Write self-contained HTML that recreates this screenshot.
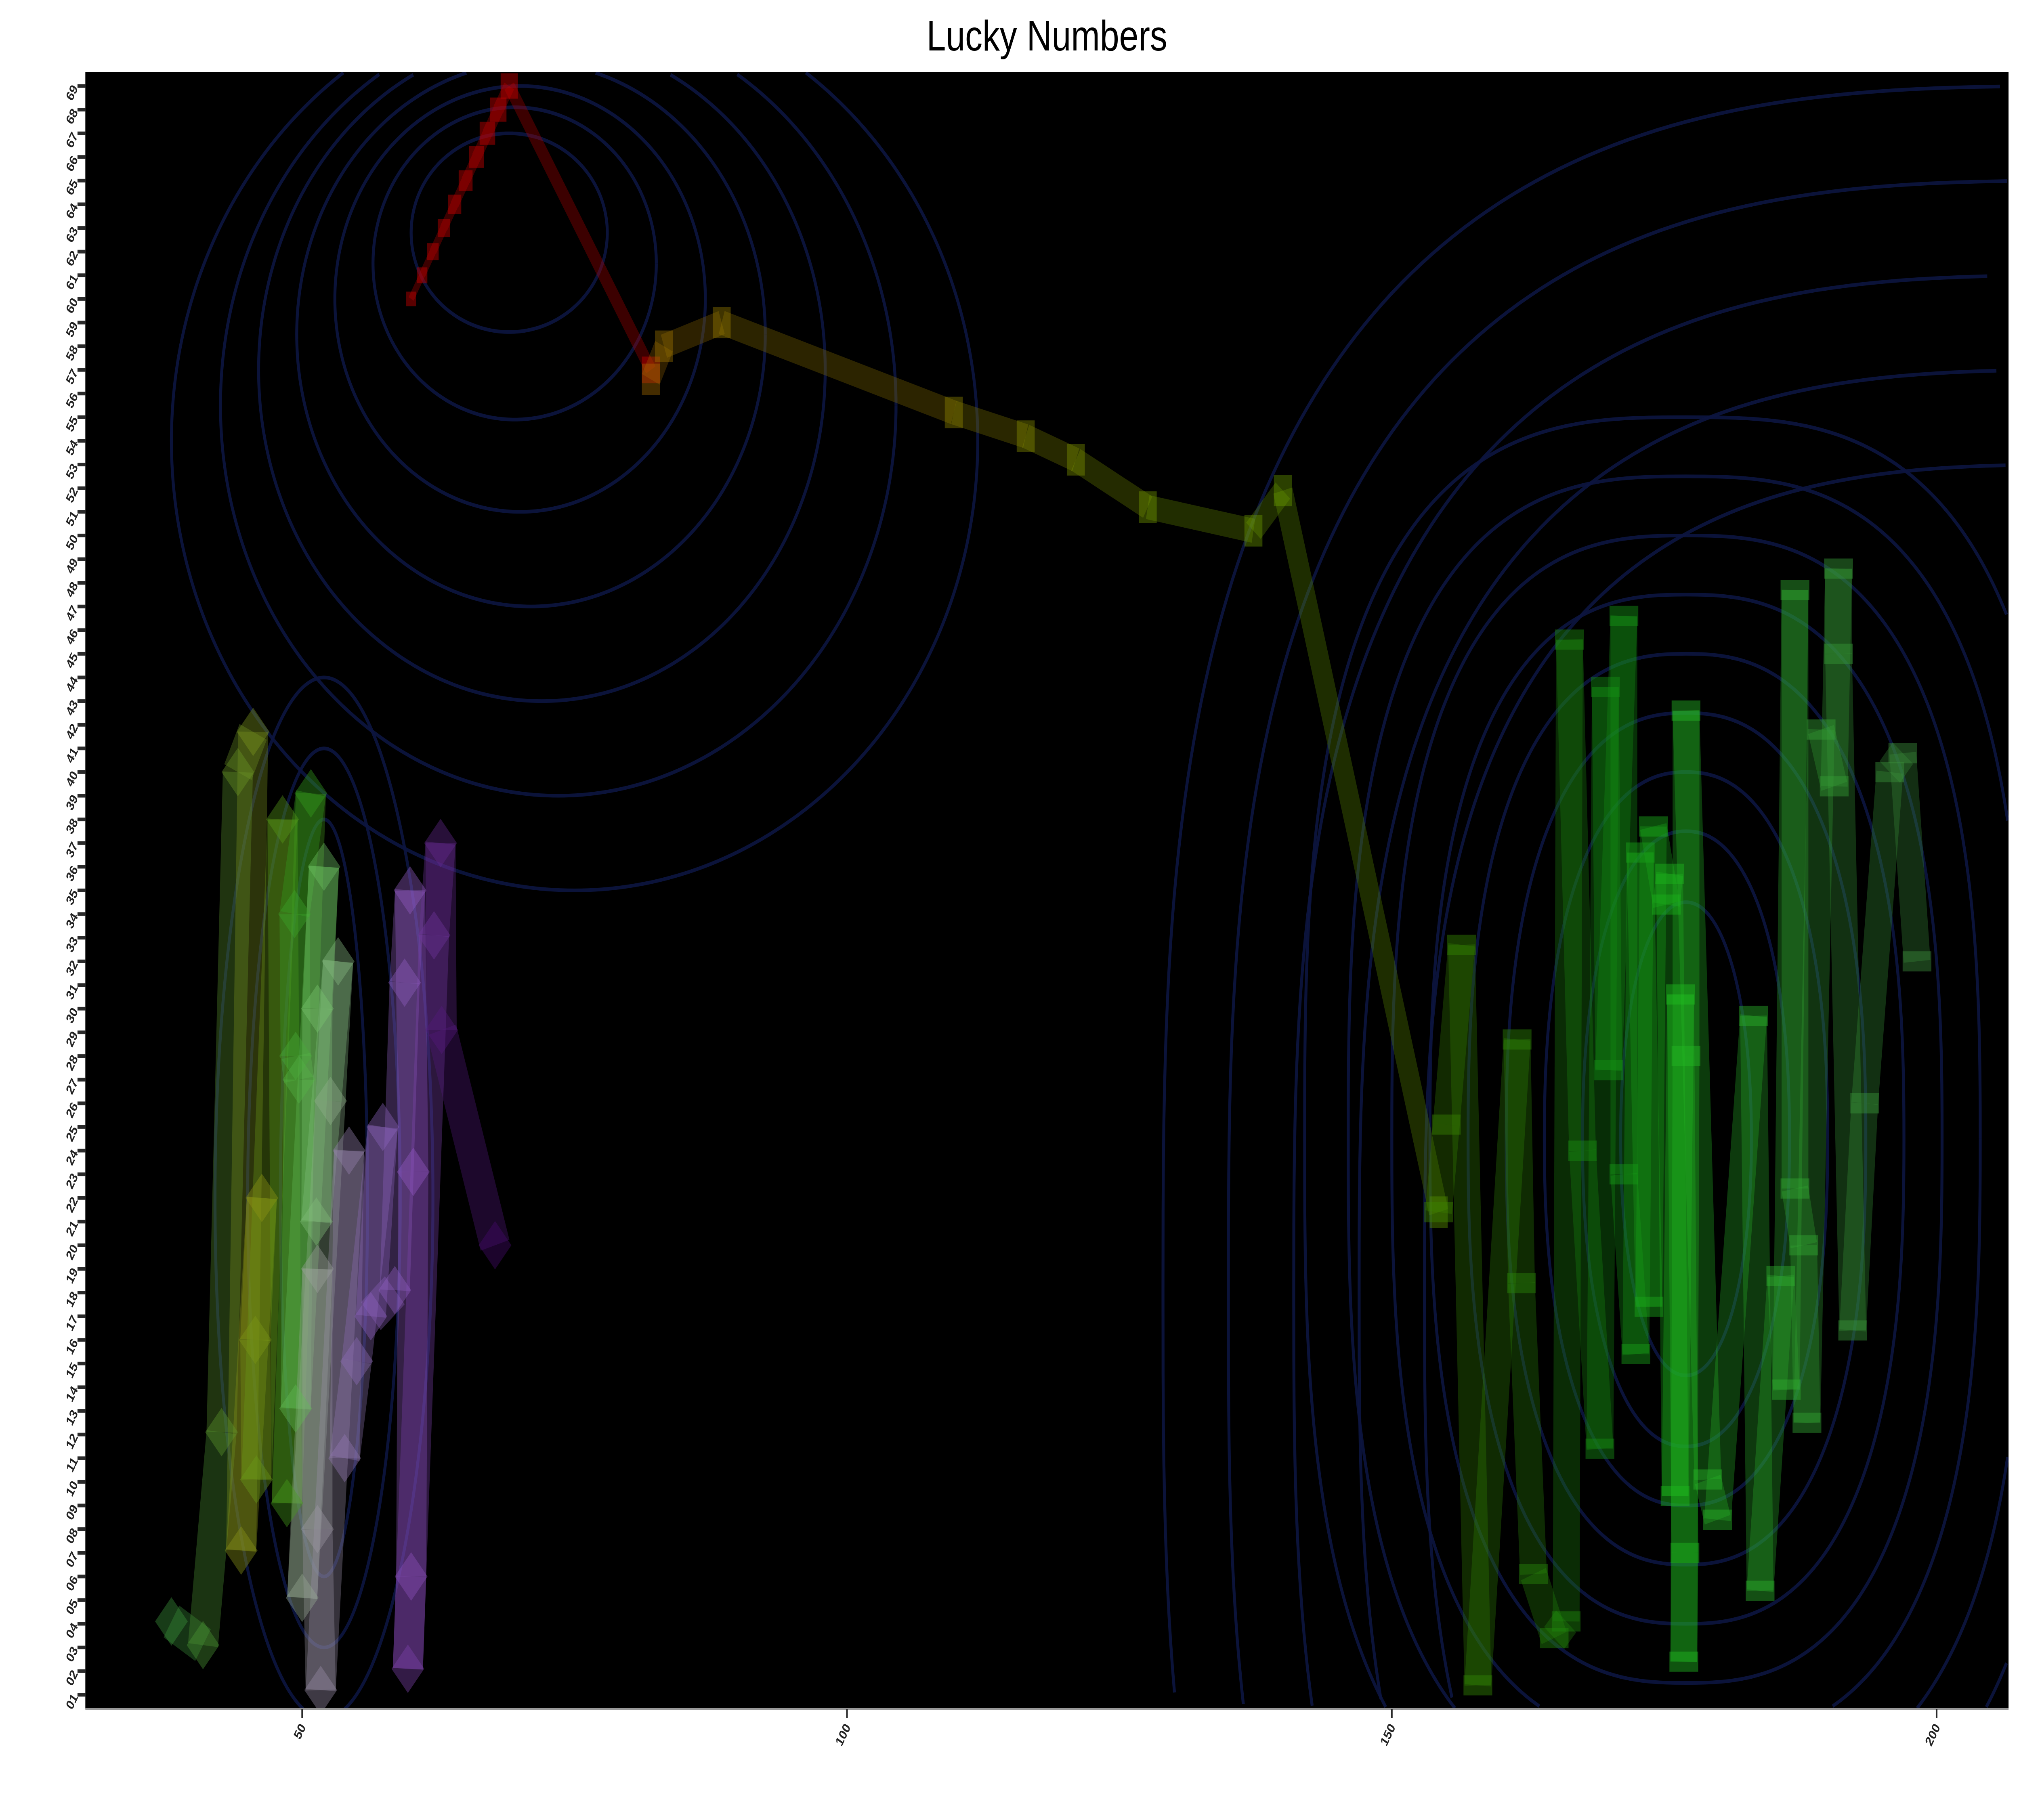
<!DOCTYPE html>
<html><head><meta charset="utf-8"><title>Lucky Numbers</title>
<style>html,body{margin:0;padding:0;background:#fff;overflow:hidden;width:100%;height:100%}svg{display:block;width:100vw;height:100vh}</style></head>
<body>
<svg id="chart" xmlns="http://www.w3.org/2000/svg" viewBox="0 0 6175 4508" preserveAspectRatio="none">
<rect x="0" y="0" width="6175" height="4508" fill="#ffffff"/>
<text x="3202" y="125" font-family="Liberation Sans, sans-serif" font-size="106" text-anchor="middle" fill="#000">Lucky Numbers</text>
<defs><clipPath id="pc"><rect x="261" y="179" width="5882" height="4054"/></clipPath></defs>
<rect x="261" y="179" width="5882" height="4054" fill="#000"/>
<g id="contours" clip-path="url(#pc)"></g>
<g id="marks" clip-path="url(#pc)"></g>
<line x1="261" y1="4233" x2="6143" y2="4233" stroke="#999" stroke-width="4"/>
<g id="axes"></g>
</svg>
<script>
// data
const yTicks = [];
for (let i = 1; i <= 69; i++) yTicks.push(i);
const xTicks = [50, 100, 150, 200];
// red series
const redX = [60,61,62,63,64,65,66,67,68,69,82];
const redY = [60,61,62,63,64,65,66,67,68,69,57];
// orange -> olive series
const mainX = [82,83.2,88.5,109.8,116.4,121,127.6,137.3,140,154.3];
const mainY = [56.6,58,59,55.2,54.2,53.2,51.2,50.2,51.9,21.4];
// right cluster (green)
const rightX = [154.3,155,156.4,157.9,161.5,161.9,163,164.9,166,166.3,167.5,169.1,169.6,169.9,171.3,171.3,172.4,172.8,173.6,174,175.2,175.5,176,176.5,176.9,176.8,177,177,179,179.9,183.2,183.8,185.7,186.2,187,187,187.8,188.1,189.4,190.6,191,191,192.3,193.4,195.7,196.9,198.2];
const rightY = [21.4,25.1,32.7,1.4,28.7,18.4,6.1,3.4,4.1,45.6,24,11.4,43.6,27.4,46.6,23,15.4,36.6,17.4,37.7,34.4,35.7,9.4,30.6,7,2.4,28,42.6,10.1,8.4,29.7,5.4,18.7,13.9,47.7,22.4,20,12.5,41.8,39.4,48.6,45,16.4,26,40,40.8,32];
// left cluster (diamonds)
const leftX = [38,40.9,42.6,44.1,45.5,44.4,46.3,45.7,45.8,48.2,48.6,50.8,49.3,49.4,49.7,49.4,52,51.4,51.3,53.3,52.6,50,51.4,51.4,51.7,54.3,53.9,55,57.4,56.3,58.5,59.4,59.9,60.2,60,59.7,62.1,62.7,62.8,67.7];
const leftY = [4.1,3.1,12.1,40,41.7,7.1,22,16,10.1,38,9.1,39.1,34,28,27,13.1,36,30,21,32,26.1,5.1,19,8,1.2,24,11,15.1,25,17,18.1,31.1,35,23.1,6,2.1,33.1,37,29.1,20];
// contour specs (data units)
const contourCX = [69,69.5,70,71,72,73.5,75, 177,177,177,177,177,177,177,177,177, 52,52,52, 215,215,215,215,215];
const contourCY = [62.8,61.5,60,58.5,57,55.5,54, 24.5,24.5,24.5,24.5,24.5,24.5,24.5,24.5,24.5, 22,22,22, 18,18,18,18,18];
const contourRX = [9,13,17,21.5,26,31,37, 6,9.5,13,16.5,20,23.5,27,31,35, 4,7,10, 62,68,74,80,86];
const contourRY = [4.2,6.6,9,11.5,14,16.5,19, 10,13,15.5,18,20.5,23,25.5,28,30.5, 16,19,22, 35,39,43,47,51];
const contourP = [2,2,2,2,2,2,2, 2.1,2.2,2.3,2.4,2.5,2.6,2.7,2.8,2.9, 2,2,2, 3,3,3,3,3];

const NS = 'http://www.w3.org/2000/svg';
const X0 = 30.1, X1 = 206.6, Y0 = 0.4, Y1 = 69.58;
const PL = 261, PR = 6143, PT = 179, PB = 4233;
function sx(v){ return PL + (v - X0) / (X1 - X0) * (PR - PL); }
function sy(v){ return PB - (v - Y0) / (Y1 - Y0) * (PB - PT); }
function mk(tag, attrs, parent){ const e = document.createElementNS(NS, tag); for (const k in attrs) e.setAttribute(k, attrs[k]); parent.appendChild(e); return e; }
function lerpColor(stops, t){
  const n = stops.length - 1; const p = Math.min(n - 1e-9, Math.max(0, t * n)); const i = Math.floor(p); const f = p - i;
  const a = stops[i], b = stops[i+1];
  return 'rgb(' + Math.round(a[0]+(b[0]-a[0])*f) + ',' + Math.round(a[1]+(b[1]-a[1])*f) + ',' + Math.round(a[2]+(b[2]-a[2])*f) + ')';
}
const axes = document.getElementById('axes');
const marks = document.getElementById('marks');
const cont = document.getElementById('contours');

function inside(x, y){ return x >= PL && x <= PR && y >= PT && y <= PB; }
for (let i = 0; i < contourCX.length; i++) {
  const cx = sx(contourCX[i]), cy = sy(contourCY[i]);
  const rx = sx(contourCX[i] + contourRX[i]) - cx, ry = cy - sy(contourCY[i] + contourRY[i]);
  const e = 2 / contourP[i];
  let runs = [], cur = [];
  const N = 360;
  for (let k = 0; k <= N; k++) {
    const a = k / N * 2 * Math.PI;
    const c = Math.cos(a), s = Math.sin(a);
    const x = cx + rx * Math.sign(c) * Math.pow(Math.abs(c), e);
    const y = cy + ry * Math.sign(s) * Math.pow(Math.abs(s), e);
    if (inside(x, y)) cur.push(x.toFixed(1) + ',' + y.toFixed(1));
    else { if (cur.length > 1) runs.push(cur); cur = []; }
  }
  if (cur.length > 1) runs.push(cur);
  runs.forEach(r => {
    const pl = mk('polyline', {points: r.join(' '), fill: 'none', stroke: '#0c1540', 'stroke-width': 9, opacity: 0.9}, cont);
    
    
  });
}

yTicks.forEach(v => {
  const y = sy(v);
  const t = mk('line', {x1: PL-24, y1: y, x2: PL, y2: y, stroke: '#2a2a2a', 'stroke-width': 9}, axes);
  
  
  const lbl = mk('text', {x: PL-32, y: y+12, 'font-family': 'Liberation Sans, sans-serif', 'font-size': 34, 'font-weight': 'bold', fill: '#222', 'text-anchor': 'end', transform: 'rotate(-60 ' + (PL-32) + ' ' + y + ')'}, axes);
  lbl.textContent = (v < 10 ? '0' : '') + v;
  
  
});
xTicks.forEach(v => {
  const x = sx(v);
  const t = mk('line', {x1: x, y1: PB, x2: x, y2: PB+22, stroke: '#2a2a2a', 'stroke-width': 5}, axes);
  
  
  const lbl = mk('text', {x: x+12, y: PB+45, 'font-family': 'Liberation Sans, sans-serif', 'font-size': 34, 'font-weight': 'bold', fill: '#222', 'text-anchor': 'end', transform: 'rotate(-60 ' + (x+12) + ' ' + (PB+45) + ')'}, axes);
  lbl.textContent = String(v);
  
  
});

function drawSeries(xs, ys, name, stops, widthFn, marker, mw, mh, lineOp, markOp){
  const g = mk('g', {}, marks);
  
  
  const n = xs.length;
  for (let i = 0; i < n - 1; i++) {
    const c = lerpColor(stops, i / (n - 1));
    const l = mk('line', {x1: sx(xs[i]), y1: sy(ys[i]), x2: sx(xs[i+1]), y2: sy(ys[i+1]), stroke: c, 'stroke-width': widthFn(i, n), 'stroke-opacity': lineOp, 'stroke-linecap': 'butt'}, g);
    
    
  }
  for (let i = 0; i < n; i++) {
    const c = lerpColor(stops, i / (n - 1));
    const x = sx(xs[i]), y = sy(ys[i]);
    const w = mw(i, n), h = mh(i, n);
    let m;
    if (marker === 'diamond') {
      m = mk('polygon', {points: (x-w/2)+','+y+' '+x+','+(y-h/2)+' '+(x+w/2)+','+y+' '+x+','+(y+h/2), fill: c, 'fill-opacity': markOp}, g);
    } else {
      m = mk('rect', {x: x-w/2, y: y-h/2, width: w, height: h, fill: c, 'fill-opacity': markOp}, g);
    }
    
    
  }
}
drawSeries(redX, redY, 'red-series',
  [[200,0,0],[200,0,0]],
  (i,n) => i < 9 ? 18 + i*2 : 34,
  'square', (i,n) => 30 + i*2.5, (i,n) => 36 + i*3, 0.3, 0.45);
drawSeries(mainX, mainY, 'main-series',
  [[170,110,0],[150,140,0],[120,160,0],[100,160,0]],
  () => 60, 'square', () => 55, () => 78, 0.28, 0.4);
drawSeries(rightX, rightY, 'green-series',
  [[60,130,0],[20,140,20],[30,190,30],[50,170,50],[60,140,60]],
  () => 82, 'square', () => 88, () => 50, 0.32, 0.45);
drawSeries(leftX, leftY, 'left-series',
  [[60,150,60],[150,150,20],[50,160,30],[120,200,110],[160,160,160],[140,100,190],[150,90,200],[70,10,110]],
  () => 92, 'diamond', () => 100, () => 120, 0.35, 0.4);
</script>
</body></html>
